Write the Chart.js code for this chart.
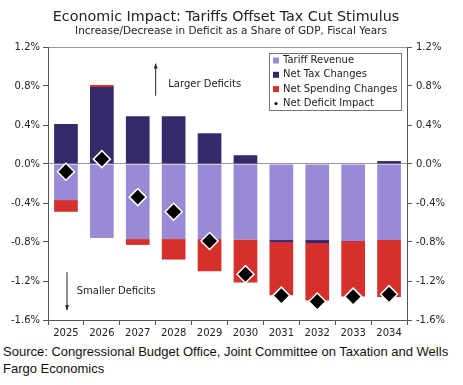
<!DOCTYPE html>
<html>
<head>
<meta charset="utf-8">
<script src="https://cdn.jsdelivr.net/npm/chart.js@4/dist/chart.umd.min.js"></script>
<style>
  body { margin: 0; background: #fff; }
  #wrap { width: 463px; height: 342px; position: relative; }
  #source {
    font-family: "Liberation Sans", Arial, sans-serif;
    font-size: 13px;
    line-height: 17px;
    color: #111;
    padding: 1px 0 0 3px;
    width: 458px;
  }
</style>
</head>
<body>
<div id="wrap"><canvas id="chart"></canvas></div>
<div id="source">Source: Congressional Budget Office, Joint Committee on Taxation and Wells Fargo Economics</div>
<script>
// ----------------------------
// DATA (% of GDP)
// ----------------------------
const years = ["2025", "2026", "2027", "2028", "2029", "2030", "2031", "2032", "2033", "2034"];
const tariffRevenue = [-0.37, -0.76, -0.77, -0.77, -0.77, -0.775, -0.78, -0.78, -0.79, -0.78];
const netTaxChanges = [0.41, 0.79, 0.49, 0.49, 0.315, 0.09, -0.02, -0.03, 0, 0.03];
const netSpendingChanges = [-0.12, 0.02, -0.06, -0.21, -0.33, -0.44, -0.545, -0.59, -0.57, -0.585];
const netDeficitImpact = [-0.08, 0.05, -0.34, -0.49, -0.79, -1.13, -1.35, -1.41, -1.36, -1.335];
const yTicks = [1.2, 0.8, 0.4, 0.0, -0.4, -0.8, -1.2, -1.6];

const FONT = "DejaVu Sans, Verdana, sans-serif";
const AXIS = "#555555";

// ----------------------------
// TITLE + NOTES + LEGEND
// ----------------------------
const decor = {
  id: "decor",
  afterDraw(chart) {
    const { ctx, scales } = chart;
    const x = scales.x, y = scales.y;
    ctx.save();
    ctx.fillStyle = "#222";
    ctx.textAlign = "center";
    ctx.textBaseline = "middle";
    ctx.font = "14.3px " + FONT;
    ctx.fillText("Economic Impact: Tariffs Offset Tax Cut Stimulus", 226, 17);
    ctx.font = "10.5px " + FONT;
    ctx.fillText("Increase/Decrease in Deficit as a Share of GDP, Fiscal Years", 231, 31);

    // arrows
    ctx.strokeStyle = "#222";
    ctx.lineWidth = 1;
    const arrow = (xv, y0, y1) => {
      const px = x.getPixelForValue(xv);
      const a = y.getPixelForValue(y0), b = y.getPixelForValue(y1);
      ctx.beginPath(); ctx.moveTo(px, a); ctx.lineTo(px, b); ctx.stroke();
      const d = b < a ? 1 : -1;
      ctx.beginPath();
      ctx.moveTo(px, b); ctx.lineTo(px - 2, b + 5 * d); ctx.lineTo(px + 2, b + 5 * d);
      ctx.closePath(); ctx.fill();
    };
    arrow(2.5, 0.70, 1.03);
    arrow(0.03, -1.11, -1.50);
    ctx.textAlign = "left";
    ctx.font = "10px " + FONT;
    ctx.fillText("Larger Deficits", x.getPixelForValue(2.85), y.getPixelForValue(0.82));
    ctx.fillText("Smaller Deficits", x.getPixelForValue(0.3), y.getPixelForValue(-1.31));

    // legend box
    const bx = 269, by = 53, bw = 132, bh = 57;
    ctx.fillStyle = "#fff";
    ctx.fillRect(bx, by, bw, bh);
    ctx.strokeStyle = "#777";
    ctx.strokeRect(bx + 0.5, by + 0.5, bw, bh);
    chart.data.datasets.forEach((ds, k) => {
      const cy = by + 7.5 + k * 14.3;
      ctx.fillStyle = ds.legendColor;
      if (ds.type === "line") {
        ctx.beginPath(); ctx.arc(bx + 7, cy, 1.5, 0, Math.PI * 2); ctx.fill();
      } else {
        ctx.fillRect(bx + 4, cy - 3, 6, 6);
      }
      ctx.fillStyle = "#222";
      ctx.fillText(ds.label, bx + 14, cy);
    });
    ctx.restore();
  }
};

// ----------------------------
// CHART
// ----------------------------
const ctx = document.getElementById("chart");
new Chart(ctx, {
  type: "bar",
  data: {
    labels: years,
    datasets: [
      {
        label: "Tariff Revenue",
        data: tariffRevenue,
        backgroundColor: "#9a8ad6",
        legendColor: "#9a8ad6",
        order: 2
      },
      {
        label: "Net Tax Changes",
        data: netTaxChanges,
        backgroundColor: "#342a69",
        legendColor: "#342a69",
        order: 2
      },
      {
        label: "Net Spending Changes",
        data: netSpendingChanges,
        backgroundColor: "#d5302c",
        legendColor: "#d5302c",
        order: 2
      },
      {
        type: "line",
        label: "Net Deficit Impact",
        data: netDeficitImpact,
        stack: "net",
        showLine: false,
        pointStyle: "rectRot",
        pointRadius: 8.5,
        pointBackgroundColor: "#000",
        pointBorderColor: "#fff",
        pointBorderWidth: 1.5,
        legendColor: "#000",
        order: 1
      }
    ]
  },
  options: {
    responsive: true,
    maintainAspectRatio: false,
    animation: false,
    layout: { padding: { top: 47, right: 0, left: 0, bottom: 0 } },
    datasets: {
      bar: { categoryPercentage: 1, barPercentage: 0.66 }
    },
    plugins: {
      legend: { display: false },
      tooltip: { enabled: false }
    },
    scales: {
      x: {
        stacked: true,
        grid: {
          offset: true,
          drawOnChartArea: false,
          color: AXIS,
          tickLength: 5
        },
        border: { color: AXIS },
        ticks: { color: "#222", font: { family: FONT, size: 10 }, padding: 2 },
        afterFit: s => { s.height = 22; }
      },
      y: {
        stacked: true,
        min: -1.6,
        max: 1.2,
        afterBuildTicks: s => { s.ticks = yTicks.map(v => ({ value: v })); },
        grid: {
          color: c => (c.tick && (c.tick.value === 0 || c.tick.value === 1.2)) ? "#999" : "rgba(0,0,0,0)",
          tickColor: AXIS,
          tickLength: 5
        },
        border: { color: AXIS },
        ticks: {
          color: "#222",
          font: { family: FONT, size: 10 },
          padding: 3,
          callback: v => v.toFixed(1) + "%"
        },
        afterFit: s => { s.width = 48; }
      },
      y2: {
        position: "right",
        min: -1.6,
        max: 1.2,
        afterBuildTicks: s => { s.ticks = yTicks.map(v => ({ value: v })); },
        grid: { drawOnChartArea: false, color: AXIS, tickLength: 5 },
        border: { color: AXIS },
        ticks: {
          color: "#222",
          font: { family: FONT, size: 10 },
          padding: 4,
          callback: v => v.toFixed(1) + "%"
        },
        afterFit: s => { s.width = 56; }
      }
    }
  },
  plugins: [decor]
});
</script>
</body>
</html>
